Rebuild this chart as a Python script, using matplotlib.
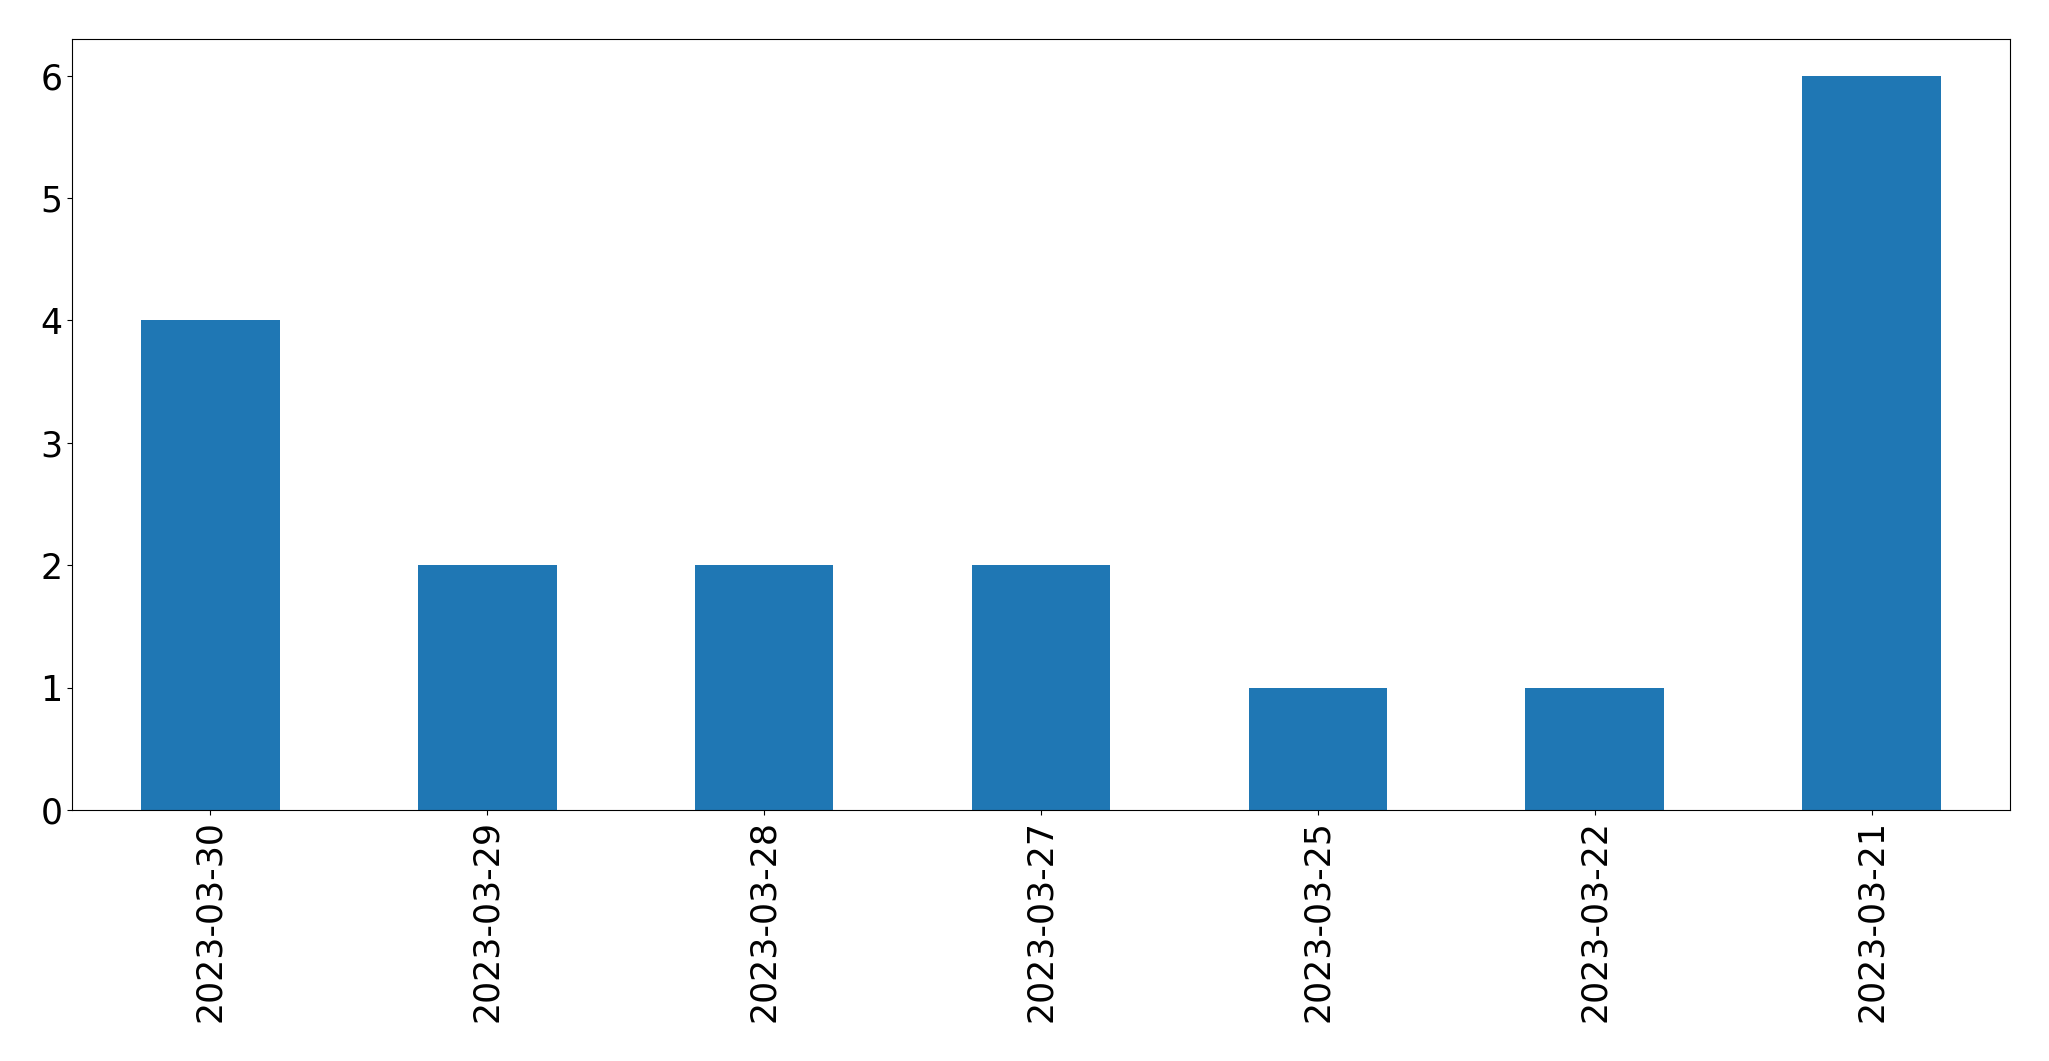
import matplotlib
matplotlib.use('Agg')
import matplotlib.pyplot as plt
import pandas as pd

# counts per date, in the order shown
dates = ['2023-03-30', '2023-03-29', '2023-03-28', '2023-03-27',
         '2023-03-25', '2023-03-22', '2023-03-21']
counts = [4, 2, 2, 2, 1, 1, 6]

s = pd.Series(counts, index=dates)

fig = plt.figure(figsize=(20.49, 10.61), dpi=100)
ax = fig.add_axes([72 / 2049, 251 / 1061, 1938 / 2049, 771 / 1061])

s.plot.bar(ax=ax, color='#1f77b4')
ax.tick_params(axis='both', labelsize=25)
ax.set_xticklabels(dates, rotation=90)

fig.savefig('out.png', dpi=100)
